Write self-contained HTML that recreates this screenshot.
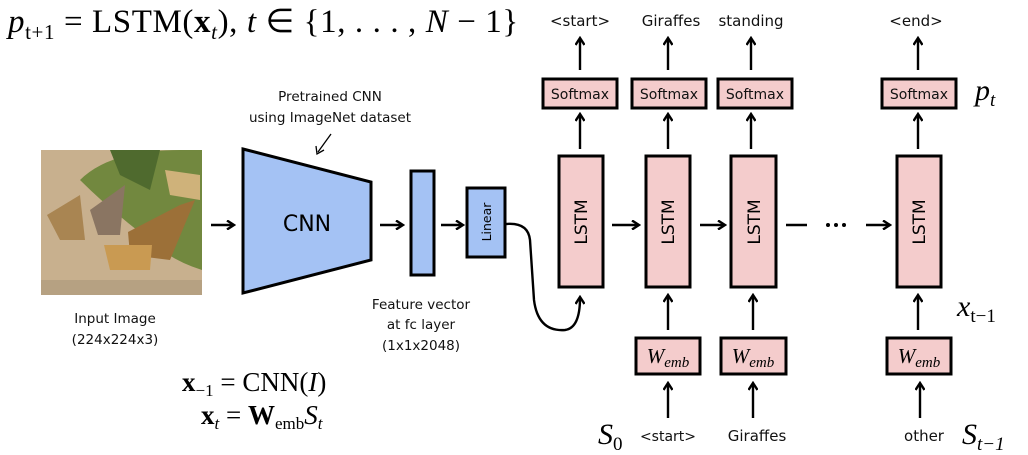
<!DOCTYPE html>
<html><head><meta charset="utf-8"><style>
html,body{margin:0;padding:0;background:#fff;}
svg{display:block}
.s{font-family:"DejaVu Sans","Liberation Sans",sans-serif;font-size:13.5px;fill:#111}
.m{font-family:"Liberation Serif",serif;fill:#000}
</style></head><body>
<svg width="1028" height="455" viewBox="0 0 1028 455" xmlns="http://www.w3.org/2000/svg">
<defs>
<marker id="ah" markerWidth="10" markerHeight="10" refX="7" refY="5" orient="auto" markerUnits="userSpaceOnUse">
<path d="M1,0.5 L8,5 L1,9.5" fill="none" stroke="#000" stroke-width="2.4"/>
</marker>
</defs>
<!-- top formula -->
<text class="m" x="8" y="32" font-size="33" letter-spacing="0.6"><tspan font-style="italic">p</tspan><tspan font-size="21" dy="7">t+1</tspan><tspan dy="-7"> = LSTM(</tspan><tspan font-weight="bold">x</tspan><tspan font-size="21" font-style="italic" dy="7">t</tspan><tspan dy="-7">), </tspan><tspan font-style="italic">t</tspan><tspan> ∈ {1, . . . , </tspan><tspan font-style="italic">N</tspan><tspan> − 1}</tspan></text>

<!-- image -->
<rect x="41" y="150" width="161" height="145" fill="#c8b08e"/>
<path d="M80,180 Q110,150 180,150 L202,150 L202,270 Q170,260 150,240 Q110,210 80,180Z" fill="#72883f"/>
<path d="M110,150 L160,150 L150,190 L120,175Z" fill="#4f6a2e"/>
<path d="M165,170 L200,175 L200,200 L170,195Z" fill="#cfb27a"/>
<path d="M47,215 L80,195 L85,240 L60,240Z" fill="#a98552"/>
<path d="M90,210 L125,185 L120,235 L98,235Z" fill="#8a7562"/>
<path d="M128,232 L180,205 L195,200 L170,260 L130,255Z" fill="#9c7038"/>
<path d="M104,245 L152,245 L150,270 L110,270Z" fill="#c99a52"/>
<rect x="41" y="280" width="161" height="15" fill="#b6a182"/>

<!-- CNN -->
<text class="s" x="330" y="101" text-anchor="middle">Pretrained CNN</text>
<text class="s" x="330" y="122" text-anchor="middle">using ImageNet dataset</text>
<line x1="331" y1="134" x2="318" y2="152" stroke="#000" stroke-width="1.3"/>
<path d="M316,146 L317,154 L324,150" fill="none" stroke="#000" stroke-width="1.3"/>
<path d="M243,149 L371,182 L371,260 L243,293Z" fill="#a4c2f4" stroke="#000" stroke-width="3"/>
<text x="307" y="231" text-anchor="middle" font-family="DejaVu Sans,sans-serif" font-size="22" fill="#000">CNN</text>
<rect x="411" y="171" width="23" height="104" fill="#a4c2f4" stroke="#000" stroke-width="3"/>
<rect x="467" y="188" width="38" height="69" fill="#a4c2f4" stroke="#000" stroke-width="3"/>
<text transform="translate(491,222) rotate(-90)" text-anchor="middle" font-family="DejaVu Sans,sans-serif" font-size="12.5" fill="#000">Linear</text>
<g stroke="#000" stroke-width="2.4" marker-end="url(#ah)">
<line x1="211" y1="225" x2="233" y2="225"/>
<line x1="380" y1="225" x2="402" y2="225"/>
<line x1="441" y1="225" x2="462" y2="225"/>
</g>
<text class="s" x="115" y="323" text-anchor="middle">Input Image</text>
<text class="s" x="115" y="344" text-anchor="middle">(224x224x3)</text>
<text class="s" x="421" y="309" text-anchor="middle">Feature vector</text>
<text class="s" x="421" y="329" text-anchor="middle">at fc layer</text>
<text class="s" x="421" y="350" text-anchor="middle">(1x1x2048)</text>

<text class="m" x="182" y="391" font-size="27"><tspan font-weight="bold">x</tspan><tspan font-size="17" dy="5">−1</tspan><tspan dy="-5"> = CNN(</tspan><tspan font-style="italic">I</tspan><tspan>)</tspan></text>
<text class="m" x="201" y="424" font-size="27"><tspan font-weight="bold">x</tspan><tspan font-size="17" font-style="italic" dy="5">t</tspan><tspan dy="-5"> = </tspan><tspan font-weight="bold">W</tspan><tspan font-size="17" dy="5">emb</tspan><tspan dy="-5" font-style="italic">S</tspan><tspan font-size="17" font-style="italic" dy="5">t</tspan></text>

<!-- curve -->
<path d="M506,224 Q528,222 530,240 L534,300 Q538,332 565,330 Q580,328 580,298" fill="none" stroke="#000" stroke-width="2.4" marker-end="url(#ah)"/>

<!-- LSTM boxes -->
<g fill="#f4cccc" stroke="#000" stroke-width="3">
<rect x="559" y="156" width="44" height="131"/>
<rect x="646" y="156" width="44" height="131"/>
<rect x="731" y="156" width="45" height="131"/>
<rect x="897" y="156" width="44" height="131"/>
<rect x="543" y="79" width="74" height="29"/>
<rect x="632" y="79" width="74" height="29"/>
<rect x="718" y="79" width="74" height="29"/>
<rect x="882" y="79" width="74" height="29"/>
<rect x="636" y="338" width="64" height="36"/>
<rect x="721" y="338" width="65" height="36"/>
<rect x="887" y="338" width="64" height="36"/>
</g>
<g font-family="DejaVu Sans,sans-serif" font-size="17" fill="#000" text-anchor="middle">
<text transform="translate(587,222) rotate(-90)">LSTM</text>
<text transform="translate(674,222) rotate(-90)">LSTM</text>
<text transform="translate(760,222) rotate(-90)">LSTM</text>
<text transform="translate(925,222) rotate(-90)">LSTM</text>
</g>
<g class="s" text-anchor="middle">
<text x="580" y="99" font-size="14">Softmax</text>
<text x="669" y="99" font-size="14">Softmax</text>
<text x="755" y="99" font-size="14">Softmax</text>
<text x="919" y="99" font-size="14">Softmax</text>
<text x="580" y="26" font-size="15">&lt;start&gt;</text>
<text x="671" y="26" font-size="15">Giraffes</text>
<text x="751" y="26" font-size="15">standing</text>
<text x="916" y="26" font-size="15">&lt;end&gt;</text>
<text x="668" y="441" font-size="14">&lt;start&gt;</text>
<text x="757" y="441" font-size="15">Giraffes</text>
<text x="924" y="441" font-size="15">other</text>
</g>
<g class="m" font-size="21" font-style="italic" text-anchor="middle">
<text x="668" y="363">W<tspan font-size="15" dy="4">emb</tspan></text>
<text x="753" y="363">W<tspan font-size="15" dy="4">emb</tspan></text>
<text x="919" y="363">W<tspan font-size="15" dy="4">emb</tspan></text>
</g>
<g stroke="#000" stroke-width="2.4" marker-end="url(#ah)">
<line x1="580" y1="70" x2="580" y2="39"/>
<line x1="668" y1="70" x2="668" y2="39"/>
<line x1="751" y1="70" x2="751" y2="39"/>
<line x1="918" y1="70" x2="918" y2="39"/>
<line x1="580" y1="149" x2="580" y2="115"/>
<line x1="668" y1="149" x2="668" y2="115"/>
<line x1="751" y1="149" x2="751" y2="115"/>
<line x1="918" y1="149" x2="918" y2="115"/>
<line x1="668" y1="330" x2="668" y2="296"/>
<line x1="753" y1="330" x2="753" y2="296"/>
<line x1="918" y1="330" x2="918" y2="296"/>
<line x1="668" y1="418" x2="668" y2="384"/>
<line x1="753" y1="418" x2="753" y2="384"/>
<line x1="920" y1="418" x2="920" y2="384"/>
<line x1="612" y1="225" x2="638" y2="225"/>
<line x1="700" y1="225" x2="724" y2="225"/>
<line x1="866" y1="225" x2="889" y2="225"/>
</g>
<line x1="786" y1="225" x2="807" y2="225" stroke="#000" stroke-width="2.6"/>
<g fill="#000"><circle cx="828" cy="225" r="2"/><circle cx="836" cy="225" r="2"/><circle cx="844" cy="225" r="2"/></g>

<text class="m" x="975" y="100" font-size="30" font-style="italic">p<tspan font-size="19" dy="6">t</tspan></text>
<text class="m" x="957" y="316" font-size="30" font-style="italic">x<tspan font-size="19" dy="6" font-style="normal">t−1</tspan></text>
<text class="m" x="598" y="444" font-size="30" font-style="italic">S<tspan font-size="19" dy="6" font-style="normal">0</tspan></text>
<text class="m" x="962" y="444" font-size="30" font-style="italic">S<tspan font-size="19" dy="6">t−1</tspan></text>
</svg>
</body></html>
